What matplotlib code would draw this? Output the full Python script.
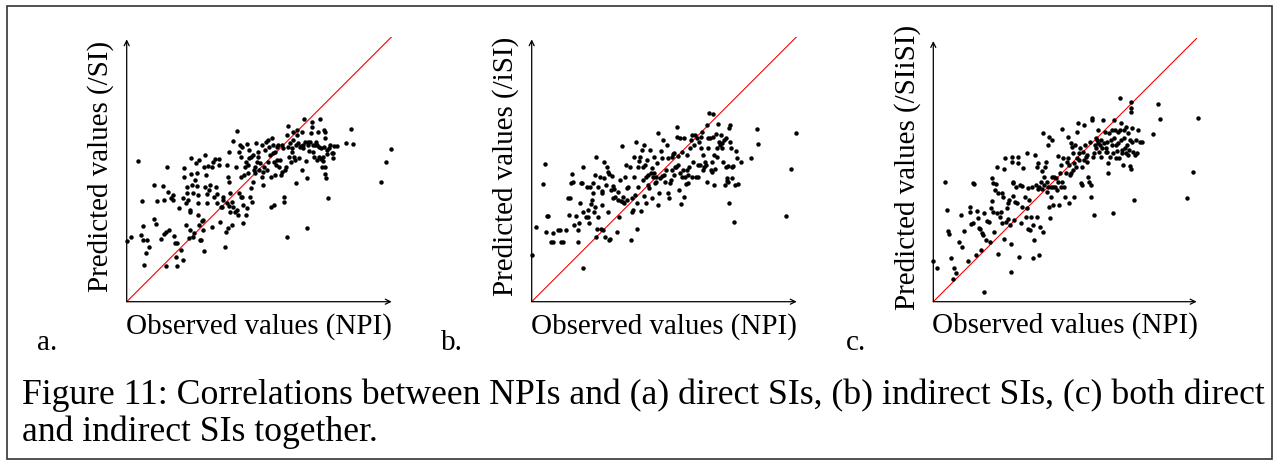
import matplotlib
matplotlib.use("Agg")
import matplotlib.pyplot as plt
from matplotlib.patches import Rectangle
import numpy as np

plt.rcParams['font.family'] = ['Liberation Serif', 'DejaVu Serif']

# ---- data (observed NPI, predicted), arbitrary units ----
points_a = [
    (0,182),(12,195),(35,422),(45,302),(42,200),(48,227),(48,185),(53,111),(58,145),(62,185),
    (67,163),(83,350),(82,248),(87,232),(92,303),(103,188),(110,348),(113,305),(113,203),(117,107),
    (118,210),(120,405),(123,330),(128,215),(132,310),(138,320),(140,305),(142,197),(145,175),(150,177),
    (148,135),(152,107),(158,280),(163,155),(170,125),(168,310),(172,400),(173,375),(177,230),(178,295),
    (180,345),(180,327),(185,305),(187,190),(190,275),(190,270),(190,215),(192,430),(193,383),(195,350),
    (198,325),(200,195),(202,207),(205,365),(208,415),(210,385),(211,347),(213,320),(215,295),(215,260),
    (217,425),(218,230),(220,185),(224,185),(225,243),(228,215),(230,245),(233,153),(232,405),(235,440),
    (236,345),(238,380),(240,295),(242,323),(245,407),(248,335),(250,350),(255,225),(256,405),(258,420),
    (262,315),(265,428),(268,345),(270,295),(272,322),(276,428),(278,410),(280,240),(283,283),(286,285),
    (288,305),(290,315),(295,163),(298,210),(300,295),(302,409),(304,220),(305,375),(306,287),(306,359),
    (308,450),(310,325),(310,270),(315,300),(317,230),(318,482),(320,285),(325,270),(328,405),(330,513),
    (332,275),(333,260),(336,448),(338,325),(340,470),(342,315),(343,435),(343,375),(345,315),(346,465),
    (348,235),(350,290),(352,380),(355,405),(358,420),(358,260),(360,280),(362,472),(363,385),(365,410),
    (366,455),(368,430),(370,315),(372,340),(373,435),(376,300),(378,360),(380,440),(382,395),(385,405),
    (385,385),(388,475),(390,420),(393,435),(395,450),(398,395),(400,415),(405,375),(406,470),(408,388),
    (410,350),(412,405),(415,455),(418,480),(420,395),(423,420),(425,485),(428,465),(430,440),(432,375),
    (433,285),(435,490),(438,445),(440,470),(442,290),(443,420),(445,380),(446,450),(448,410),(450,465),
    (452,425),(455,470),(457,405),(460,425),(462,380),(465,390),(467,470),(470,460),(472,315),(473,300),
    (475,395),(478,403),(480,195),(482,500),(483,527),(485,465),(488,435),(490,475),(492,420),(495,450),
    (496,460),(498,510),(500,485),(502,435),(505,425),(507,355),(508,470),(510,500),(512,515),(515,475),
    (518,430),(520,465),(522,467),(525,510),(527,395),(528,460),(530,470),(533,547),(535,480),(538,422),
    (540,220),(542,370),(543,480),(545,470),(548,453),(550,480),(552,505),(555,540),(555,525),(558,470),
    (560,450),(562,435),(565,470),(568,480),(570,425),(572,470),(575,510),(577,433),(578,465),(580,547),
    (582,460),(583,427),(585,405),(588,435),(590,422),(592,515),(593,465),(594,510),(595,405),(595,490),
    (596,383),(598,370),(600,455),(602,443),(605,310),(608,460),(610,470),(615,445),(618,432),(620,445),
    (622,467),(630,468),(658,475),(674,518),(680,472),(763,360),(778,420),(792,458),
]

points_b = [
    (0,140),(12,223),(35,352),(40,412),(45,257),(50,257),(43,208),(58,180),(63,207),(65,178),
    (80,215),(85,215),(88,180),(93,180),(103,215),(110,312),(112,260),(115,310),(118,355),(120,382),
    (123,360),(128,230),(132,257),(138,178),(140,215),(142,235),(145,295),(148,357),(150,355),(153,102),
    (153,405),(155,270),(162,255),(165,343),(168,255),(170,275),(173,235),(175,343),(177,293),(180,305),
    (183,327),(185,357),(187,270),(190,380),(190,285),(192,435),(192,195),(195,218),(198,345),(200,255),
    (205,375),(208,217),(210,290),(210,332),(212,327),(215,215),(216,420),(218,370),(220,195),(222,350),
    (225,405),(228,390),(230,270),(232,383),(233,185),(235,187),(238,335),(240,377),(243,310),(245,347),
    (248,337),(250,315),(255,210),(258,305),(260,330),(263,255),(265,365),(268,303),(270,467),(273,315),
    (275,300),(278,295),(280,375),(282,410),(285,305),(286,342),(290,345),(295,405),(298,185),(300,270),
    (302,310),(305,275),(306,375),(308,435),(310,320),(312,480),(315,295),(317,217),(318,405),(320,345),
    (322,422),(325,435),(328,271),(330,455),(333,365),(335,405),(336,317),(338,470),(340,410),(342,295),
    (343,375),(345,425),(348,350),(350,380),(352,340),(355,455),(358,385),(360,310),(362,400),(365,375),
    (367,385),(368,435),(370,355),(372,360),(373,375),(376,415),(378,505),(380,290),(382,325),(385,370),
    (388,453),(390,430),(392,377),(395,485),(398,380),(400,360),(402,395),(405,470),(408,430),(410,325),
    (412,310),(415,355),(418,365),(420,435),(422,395),(425,443),(427,380),(428,445),(430,405),(432,405),
    (435,523),(436,495),(438,410),(440,437),(442,335),(445,385),(446,490),(448,293),(450,375),(452,450),
    (455,395),(457,315),(458,490),(460,375),(463,353),(465,440),(467,395),(468,380),(470,355),(472,405),
    (475,460),(477,485),(480,375),(482,500),(485,420),(488,470),(490,500),(492,375),(495,490),(498,410),
    (500,375),(502,480),(505,410),(507,460),(508,495),(510,510),(513,440),(515,395),(518,405),(520,420),
    (522,410),(525,530),(526,360),(528,490),(530,460),(533,565),(535,490),(537,395),(540,420),(542,390),
    (543,563),(545,495),(547,440),(548,350),(550,397),(552,503),(555,460),(557,435),(560,533),(562,480),
    (565,470),(568,500),(570,475),(572,460),(575,420),(578,485),(580,350),(582,490),(583,405),(585,370),
    (587,363),(588,360),(590,407),(592,520),(593,295),(594,530),(596,480),(598,460),(600,370),(602,405),
    (605,407),(608,239),(610,350),(612,453),(615,430),(620,352),(628,420),(658,432),(677,519),(680,473),
    (763,257),(778,397),(792,505),
]

points_c = [
    (0,122),(12,102),(35,358),(40,275),(45,213),(47,203),(53,132),(58,67),(62,100),(67,87),
    (78,180),(83,260),(87,163),(92,213),(103,123),(110,285),(110,270),(113,233),(118,237),(120,355),
    (123,353),(128,140),(132,272),(135,250),(138,220),(140,217),(143,155),(147,205),(150,200),(153,30),
    (153,267),(157,185),(162,243),(167,240),(170,178),(173,280),(175,303),(177,370),(180,355),(180,270),
    (183,210),(185,335),(187,353),(190,265),(191,405),(193,143),(195,325),(200,255),(203,270),(205,325),
    (207,235),(210,315),(212,397),(213,187),(215,430),(217,240),(220,280),(223,247),(225,295),(227,305),
    (230,230),(233,173),(233,90),(235,435),(237,420),(238,360),(239,355),(240,317),(243,245),(245,300),
    (247,345),(250,295),(253,417),(255,435),(257,133),(260,350),(263,237),(265,285),(267,348),(270,402),
    (275,315),(277,255),(280,447),(280,280),(283,340),(285,217),(287,305),(290,215),(293,255),(295,345),
    (298,130),(300,230),(302,185),(305,440),(307,350),(310,405),(312,255),(313,417),(315,337),(317,345),
    (318,140),(320,225),(323,360),(325,392),(327,337),(328,505),(330,210),(332,375),(333,350),(335,405),
    (337,420),(340,360),(342,330),(343,470),(345,345),(347,495),(348,285),(350,250),(352,315),(353,345),
    (355,375),(357,485),(360,345),(360,290),(362,375),(365,345),(368,370),(370,335),(373,437),(375,360),
    (378,290),(380,385),(382,345),(383,410),(385,518),(387,360),(390,430),(393,345),(395,315),(398,385),
    (400,420),(403,430),(405,495),(407,410),(408,295),(410,380),(412,475),(413,385),(415,465),(418,395),
    (420,447),(422,417),(423,315),(425,470),(427,403),(430,510),(432,430),(435,535),(437,425),(438,445),
    (440,460),(443,355),(445,405),(447,350),(450,450),(452,530),(453,425),(455,470),(457,435),(460,420),
    (462,440),(465,375),(467,360),(470,480),(472,315),(473,350),(475,545),(477,550),(480,435),(482,260),
    (483,445),(485,470),(487,490),(489,460),(491,485),(493,475),(495,515),(497,450),(500,470),(502,435),
    (503,485),(505,460),(510,545),(512,475),(515,510),(517,450),(518,460),(520,480),(522,450),(523,415),
    (525,385),(527,505),(530,435),(532,485),(535,515),(537,470),(538,445),(540,267),(542,545),(543,490),
    (545,515),(547,430),(549,470),(551,453),(553,510),(555,475),(557,430),(559,610),(560,515),(562,535),
    (563,485),(565,445),(567,455),(569,410),(571,490),(573,515),(575,460),(577,445),(579,525),(581,470),
    (583,440),(585,505),(587,455),(589,485),(591,407),(592,397),(593,600),(593,580),(594,570),(595,520),
    (597,480),(599,450),(602,305),(605,440),(607,485),(610,445),(615,515),(620,480),(627,480),(658,503),
    (675,593),(680,547),(762,312),(778,390),(793,552),
]

x_label = "Observed values (NPI)"
y_labels = ["Predicted values (/SI)", "Predicted values (/iSI)", "Predicted values (/SIiSI)"]
panel_tags = ["a.", "b.", "c."]
caption_1 = "Figure 11: Correlations between NPIs and (a) direct SIs, (b) indirect SIs, (c) both direct"
caption_2 = "and indirect SIs together."

W, H = 1274, 463
fig = plt.figure(figsize=(W / 100, H / 100), dpi=100)

# figure frame
fig.patches.append(Rectangle((7 / W, 4 / H), 1265 / W, 453 / H, transform=fig.transFigure,
                             fill=False, edgecolor='#333333', linewidth=1.2))

panels = [
    (points_a, 126.7, 265.0, 795),
    (points_b, 531.7, 265.0, 795),
    (points_c, 933.3, 263.3, 790),
]
origin_y = 301.7
tag_x = [47, 452, 856]

axes = []
for i, (pts, left_px, size_px, lim) in enumerate(panels):
    ax = fig.add_axes([left_px / W, (H - origin_y) / H, size_px / W, size_px / H])
    arr = np.array(pts, dtype=float)
    ax.axline((0, 0), slope=1, color='red', linewidth=0.8, zorder=1)
    ax.plot(arr[:, 0], arr[:, 1], 'o', color='black', markersize=3.2, markeredgewidth=0,
            zorder=2, clip_on=False)
    ax.set_xlim(0, lim)
    ax.set_ylim(0, lim)
    for s in ax.spines.values():
        s.set_visible(False)
    ax.set_xticks([])
    ax.set_yticks([])
    ax.patch.set_alpha(0)
    arrow = dict(arrowstyle='->', color='black', linewidth=0.9, shrinkA=0, shrinkB=0,
                 mutation_scale=9)
    ax.annotate('', xy=(1.0, 0), xytext=(0, 0), xycoords='axes fraction',
                textcoords='axes fraction', arrowprops=arrow, annotation_clip=False)
    ax.annotate('', xy=(0, 0.99), xytext=(0, 0), xycoords='axes fraction',
                textcoords='axes fraction', arrowprops=arrow, annotation_clip=False)
    xl = ax.text(0.5, -0.092, x_label, transform=ax.transAxes, ha='center', va='center',
                 fontsize=19)
    yl = ax.text(-0.097, 0.51, y_labels[i], transform=ax.transAxes, ha='center', va='center',
                 rotation=90, fontsize=19)
    fig.text(tag_x[i] / W, (H - 350) / H, panel_tags[i], ha='center', va='baseline', fontsize=21)
    axes.append((xl, yl))

# fit label sizes to the measured widths
fig.canvas.draw()
r = fig.canvas.get_renderer()
xl0 = axes[0][0]
w = xl0.get_window_extent(r).width
fs = 19 * 266 / w
for xl, yl in axes:
    xl.set_fontsize(fs)
    yl.set_fontsize(fs)

c1 = fig.text(22 / W, (H - 404) / H, caption_1, ha='left', va='baseline', fontsize=21)
c2 = fig.text(22 / W, (H - 441) / H, caption_2, ha='left', va='baseline', fontsize=21)
fig.canvas.draw()
w1 = c1.get_window_extent(r).width
fs_c = 21 * 1240 / w1
c1.set_fontsize(fs_c)
c2.set_fontsize(fs_c)

fig.savefig('out.png', dpi=100, facecolor='white')
